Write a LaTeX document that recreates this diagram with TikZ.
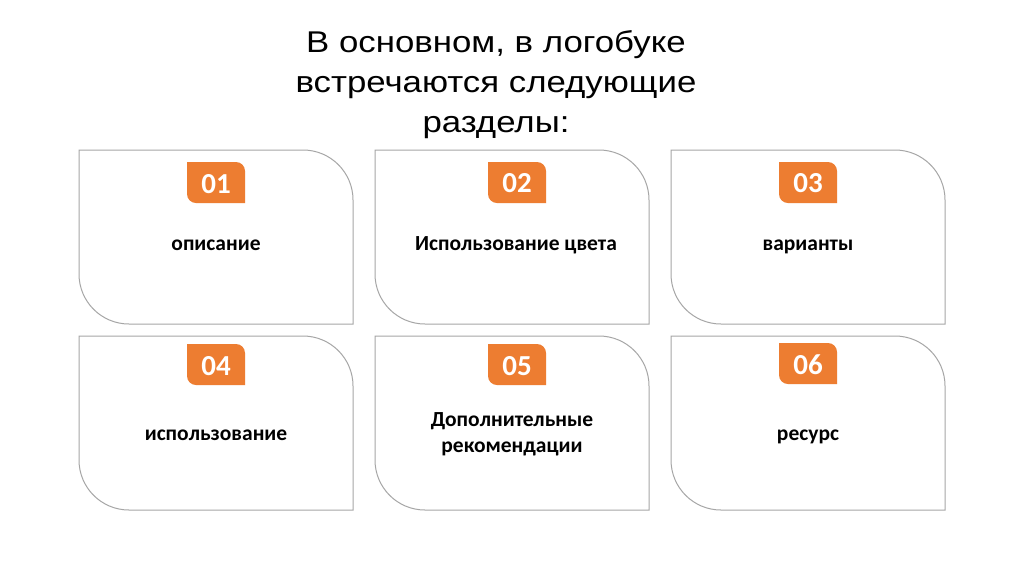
\documentclass[tikz,border=0pt]{standalone}
\usepackage{fontspec}
\setmainfont{Carlito}
\newfontfamily\titlefont{Liberation Sans}
\definecolor{badgeorange}{HTML}{ED7D31}
\definecolor{cardgray}{HTML}{A6A6A6}
\newcommand{\cardpath}[5]{(#1,#2) -- ({#3-#5},#2) arc[start angle=-90,end angle=0,radius=#5] -- (#3,#4) -- ({#1+#5},#4) arc[start angle=90,end angle=180,radius=#5] -- cycle}
\tikzset{
  card/.style={draw=cardgray, line width=1pt, fill=white},
  badgebox/.style={fill=badgeorange},
  badgetext/.style={text=white, font=\bfseries\fontsize{29}{32}\selectfont, inner sep=0pt, anchor=base},
  cardtext/.style={text=black, font=\bfseries\fontsize{21.5}{26}\selectfont, align=center, inner sep=0pt},
  cardline/.style={cardtext, anchor=base},
  titletext/.style={font=\titlefont\fontsize{30}{40}\selectfont, align=center, inner sep=0pt, xscale=1.16}
}
\begin{document}
\begin{tikzpicture}[x=1pt,y=-1pt]
\useasboundingbox (0,0) rectangle (1024,574);
\fill[white] (0,0) rectangle (1024,574);
\node[titletext] (title) at (496,85) {В основном, в логобуке\\встречаются следующие\\разделы:};
% cards
\foreach \x/\y/\n/\bx/\by in {79/150/c1/187/162, 375/150/c2/488/162, 671/150/c3/779/162, 79/336/c4/187/344, 375/336/c5/488/344, 671/336/c6/779/343}{
  \draw[card] \cardpath{\x}{\y}{\x+274}{\y+174}{50};
  \fill[badgebox] \cardpath{\bx}{\by}{\bx+58}{\by+41}{9};
}
\node[badgetext] (n1) at (216,193) {01};
\node[badgetext] (n2) at (517,192) {02};
\node[badgetext] (n3) at (808,192) {03};
\node[badgetext] (n4) at (216,375) {04};
\node[badgetext] (n5) at (517,375) {05};
\node[badgetext] (n6) at (808,374) {06};
\node[cardline] (t1) at (216,250) {описание};
\node[cardline] (t2) at (516,250) {Использование цвета};
\node[cardline] (t3) at (808,250) {варианты};
\node[cardline] (t4) at (216,440) {использование};
\node[cardtext] (t5) at (512,434) {Дополнительные\\рекомендации};
\node[cardline] (t6) at (808,440) {ресурс};
\end{tikzpicture}
\end{document}
